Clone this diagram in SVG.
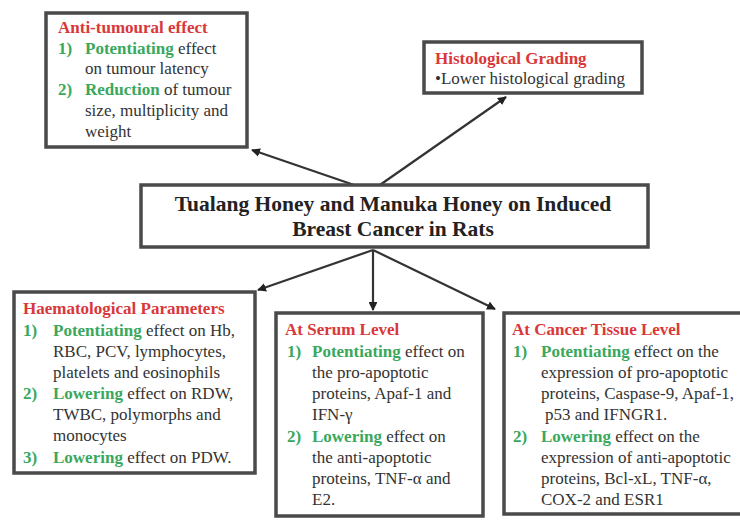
<svg xmlns="http://www.w3.org/2000/svg" width="740" height="520" viewBox="0 0 740 520">
<style>
.box{fill:#fff;stroke:#4a4a4a;stroke-width:3.5}
.t{font-family:"Liberation Serif","Times New Roman",serif;font-size:17px;fill:#333}
.h{font-weight:bold;fill:#d9383a}
.g{font-weight:bold;fill:#3aa85c}
.title{font-family:"Liberation Serif","Times New Roman",serif;font-size:21.5px;font-weight:bold;fill:#222}
.conn{stroke:#333;stroke-width:2.2;fill:none;marker-end:url(#ah)}
</style>
<defs>
<marker id="ah" viewBox="0 0 10 10" refX="9" refY="5" markerWidth="4" markerHeight="4" orient="auto" markerUnits="strokeWidth">
<path d="M0,0 L10,5 L0,10 z" fill="#222"/>
</marker>
</defs>
<rect width="740" height="520" fill="#fff"/>
<g id="connectors">
<line class="conn" x1="360" y1="187" x2="252" y2="150"/>
<line class="conn" x1="377" y1="187" x2="506" y2="97"/>
<line class="conn" x1="373" y1="250" x2="258" y2="290"/>
<line class="conn" x1="373" y1="250" x2="373" y2="310"/>
<line class="conn" x1="373" y1="250" x2="495" y2="309"/>
</g>
<g id="anti-tumoural">
<rect class="box" x="46" y="13" width="201" height="134"/>
<text class="t" x="58" y="33"><tspan class="h">Anti-tumoural  effect</tspan></text>
<text class="t" x="58" y="54"><tspan class="g">1)</tspan></text>
<text class="t" x="85" y="54"><tspan class="g">Potentiating</tspan> effect</text>
<text class="t" x="85" y="74">on tumour latency</text>
<text class="t" x="58" y="95"><tspan class="g">2)</tspan></text>
<text class="t" x="85" y="95"><tspan class="g">Reduction</tspan> of tumour</text>
<text class="t" x="85" y="116">size, multiplicity and</text>
<text class="t" x="85" y="137">weight</text>
</g>
<g id="histological">
<rect class="box" x="424" y="42" width="218" height="51"/>
<text class="t" x="435" y="64"><tspan class="h">Histological  Grading</tspan></text>
<text class="t" x="435" y="84">•Lower histological grading</text>
</g>
<g id="center">
<rect class="box" x="141" y="185" width="507" height="62"/>
<text class="title" x="393" y="211" text-anchor="middle">Tualang Honey and Manuka Honey on Induced</text>
<text class="title" x="393" y="236" text-anchor="middle">Breast Cancer in Rats</text>
</g>
<g id="haematological">
<rect class="box" x="14" y="292" width="241" height="181"/>
<text class="t" x="23" y="314"><tspan class="h">Haematological Parameters</tspan></text>
<text class="t" x="23" y="336"><tspan class="g">1)</tspan></text>
<text class="t" x="53" y="336"><tspan class="g">Potentiating</tspan> effect on Hb,</text>
<text class="t" x="53" y="357">RBC, PCV, lymphocytes,</text>
<text class="t" x="53" y="378">platelets and eosinophils</text>
<text class="t" x="23" y="399"><tspan class="g">2)</tspan></text>
<text class="t" x="53" y="399"><tspan class="g">Lowering</tspan> effect on RDW,</text>
<text class="t" x="53" y="420">TWBC, polymorphs and</text>
<text class="t" x="53" y="441">monocytes</text>
<text class="t" x="23" y="463"><tspan class="g">3)</tspan></text>
<text class="t" x="53" y="463"><tspan class="g">Lowering</tspan> effect on PDW.</text>
</g>
<g id="serum">
<rect class="box" x="276" y="313" width="207" height="203"/>
<text class="t" x="285" y="335"><tspan class="h">At Serum Level</tspan></text>
<text class="t" x="287" y="357"><tspan class="g">1)</tspan></text>
<text class="t" x="312" y="357"><tspan class="g">Potentiating</tspan> effect on</text>
<text class="t" x="312" y="378">the pro-apoptotic</text>
<text class="t" x="312" y="399">proteins, Apaf-1 and</text>
<text class="t" x="312" y="420">IFN-γ</text>
<text class="t" x="287" y="442"><tspan class="g">2)</tspan></text>
<text class="t" x="312" y="442"><tspan class="g">Lowering</tspan> effect on</text>
<text class="t" x="312" y="463">the anti-apoptotic</text>
<text class="t" x="312" y="484">proteins, TNF-α and</text>
<text class="t" x="312" y="505">E2.</text>
</g>
<g id="tissue">
<rect class="box" x="504" y="313" width="240" height="201"/>
<text class="t" x="512" y="335"><tspan class="h">At Cancer Tissue Level</tspan></text>
<text class="t" x="513" y="357"><tspan class="g">1)</tspan></text>
<text class="t" x="541" y="357"><tspan class="g">Potentiating</tspan> effect on the</text>
<text class="t" x="541" y="378">expression of pro-apoptotic</text>
<text class="t" x="541" y="399">proteins, Caspase-9, Apaf-1,</text>
<text class="t" x="545" y="420">p53 and IFNGR1.</text>
<text class="t" x="513" y="442"><tspan class="g">2)</tspan></text>
<text class="t" x="541" y="442"><tspan class="g">Lowering</tspan> effect on the</text>
<text class="t" x="541" y="463">expression of anti-apoptotic</text>
<text class="t" x="541" y="484">proteins, Bcl-xL, TNF-α,</text>
<text class="t" x="541" y="505">COX-2 and ESR1</text>
</g>
</svg>
